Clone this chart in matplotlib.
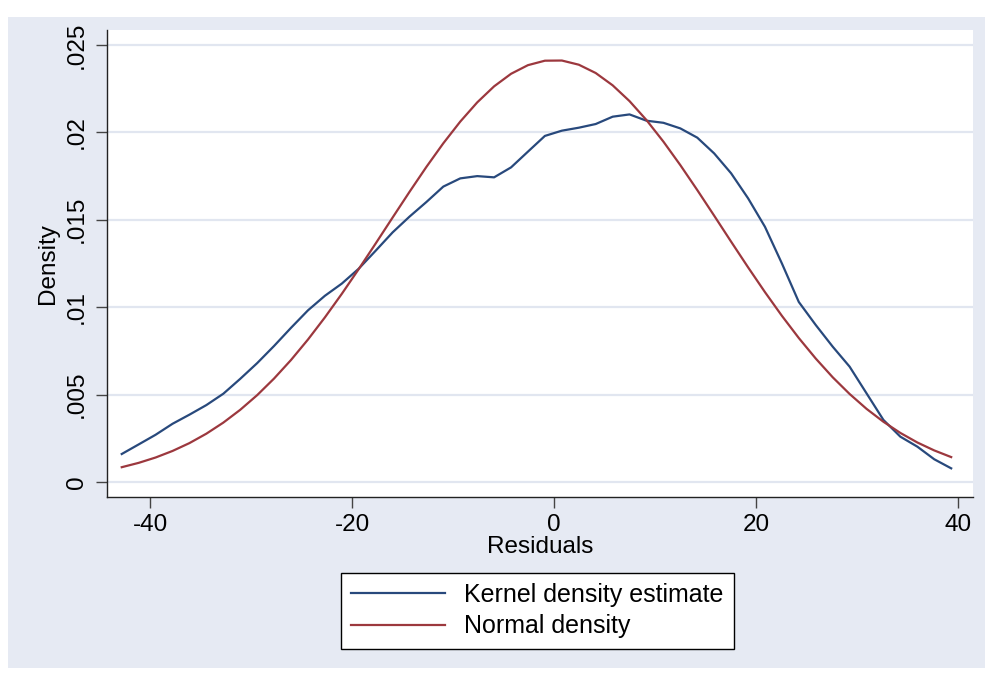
import matplotlib
matplotlib.use("Agg")
import matplotlib.pyplot as plt
from matplotlib.patches import Rectangle

plt.rcParams['font.family'] = ['Liberation Sans', 'DejaVu Sans']

# Evaluation grid (residuals)
residuals = [-42.80, -41.12, -39.45, -37.77, -36.10, -34.42, -32.74, -31.07, -29.39, -27.72,
             -26.04, -24.36, -22.69, -21.01, -19.34, -17.66, -15.98, -14.31, -12.63, -10.96,
             -9.28, -7.60, -5.93, -4.25, -2.58, -0.90, 0.78, 2.46, 4.13, 5.81,
             7.48, 9.16, 10.84, 12.51, 14.19, 15.86, 17.54, 19.22, 20.89, 22.57,
             24.24, 25.92, 27.60, 29.27, 30.95, 32.62, 34.30, 35.98, 37.65, 39.33]

kernel_density = [0.00160, 0.00215, 0.00270, 0.00333, 0.00385, 0.00440, 0.00505, 0.00590, 0.00680, 0.00778,
                  0.00882, 0.00982, 0.01065, 0.01135, 0.01220, 0.01323, 0.01428, 0.01518, 0.01602, 0.01690,
                  0.01737, 0.01750, 0.01743, 0.01800, 0.01890, 0.01980, 0.02010, 0.02027, 0.02048, 0.02090,
                  0.02103, 0.02067, 0.02055, 0.02023, 0.01970, 0.01880, 0.01766, 0.01623, 0.01460, 0.01250,
                  0.01030, 0.00898, 0.00774, 0.00660, 0.00507, 0.00355, 0.00259, 0.00202, 0.00130, 0.00078]

normal_density = [0.000845, 0.001094, 0.001399, 0.001775, 0.002223, 0.002763, 0.003397, 0.004128, 0.004968, 0.005917,
                  0.006979, 0.008150, 0.009412, 0.010764, 0.012176, 0.013642, 0.015129, 0.016596, 0.018030, 0.019377,
                  0.020620, 0.021719, 0.022636, 0.023355, 0.023848, 0.024104, 0.024113, 0.023874, 0.023399, 0.022694,
                  0.021791, 0.020705, 0.019469, 0.018129, 0.016700, 0.015237, 0.013748, 0.012280, 0.010863, 0.009504,
                  0.008237, 0.007061, 0.005989, 0.005036, 0.004183, 0.003445, 0.002805, 0.002259, 0.001805, 0.001424]

x_ticks = [-40, -20, 0, 20, 40]
x_tick_labels = ['-40', '-20', '0', '20', '40']
y_ticks = [0, 0.005, 0.01, 0.015, 0.02, 0.025]
y_tick_labels = ['0', '.005', '.01', '.015', '.02', '.025']
series_labels = ['Kernel density estimate', 'Normal density']

W, H = 985, 673
fig = plt.figure(figsize=(W / 100, H / 100), dpi=100)
fig.patch.set_facecolor('white')

bg = Rectangle((8 / W, 1 - 668 / H), 1 - 8 / W, (668 - 17) / H,
               transform=fig.transFigure, facecolor='#E6EAF3', edgecolor='none', zorder=-10)
fig.patches.append(bg)

ax = fig.add_axes([107 / W, 1 - 497 / H, (973 - 107) / W, (497 - 30) / H])
ax.set_zorder(1)
ax.set_facecolor('white')

ax.plot(residuals, kernel_density, color='#28497C', lw=1.6, label=series_labels[0], zorder=3)
ax.plot(residuals, normal_density, color='#9C383E', lw=1.6, label=series_labels[1], zorder=3)

ax.set_xlim(-44.26, 41.49)
ax.set_ylim(-0.00086, 0.02586)
ax.set_xticks(x_ticks)
ax.set_xticklabels(x_tick_labels)
ax.set_yticks(y_ticks)
ax.set_yticklabels(y_tick_labels, rotation=90, va='center')

ax.yaxis.grid(True, color='#E1E6F0', lw=1.6)
ax.xaxis.grid(False)
ax.set_axisbelow(True)

for s in ['top', 'right']:
    ax.spines[s].set_visible(False)
for s in ['left', 'bottom']:
    ax.spines[s].set_color('#222222')
    ax.spines[s].set_linewidth(1.0)

ax.tick_params(axis='both', direction='out', length=8, width=1.0, color='#444444',
               labelsize=17.5, labelcolor='black')
ax.tick_params(axis='x', pad=4)
ax.tick_params(axis='y', pad=6)

ax.set_xlabel('Residuals', fontsize=17.5, labelpad=0)
ax.set_ylabel('Density', fontsize=17.5, labelpad=5)

leg = fig.legend(loc='upper left', bbox_to_anchor=(341 / W, 1 - 573 / H),
                 bbox_transform=fig.transFigure, borderaxespad=0,
                 fontsize=18, handlelength=3.75, handletextpad=0.78,
                 labelspacing=0.3, borderpad=0.4, fancybox=False, shadow=False,
                 framealpha=1, edgecolor='black', facecolor='white')
leg.get_frame().set_linewidth(1.0)
leg.set_zorder(5)

fig.savefig('out.png', dpi=100)
